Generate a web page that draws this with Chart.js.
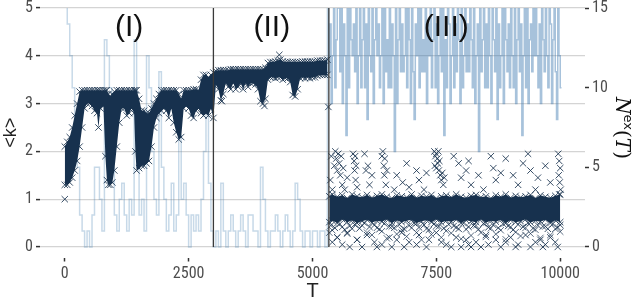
<!DOCTYPE html>
<html lang="en">
<head>
<meta charset="UTF-8" />
<title>&lt;k&gt; and Nex(T)</title>
<script src="https://cdn.jsdelivr.net/npm/chart.js"></script>
<style>
  html, body { margin: 0; padding: 0; background: #fff; }
  #wrap { width: 638px; height: 301px; }
</style>
</head>
<body>
<div id="wrap"><canvas id="chart"></canvas></div>
<script>
// ticks
const xTicks = [0, 2500, 5000, 7500, 10000];
const kTicks = [0, 1, 2, 3, 4, 5];
const nexTicks = [0, 5, 10, 15];

// phase boundaries and labels
const phaseBounds = [3000, 5330];
const phaseNames = ['(I)', '(II)', '(III)'];
const phaseNameT = [1300, 4180, 7700];

// <k> band, phases I and II (lower / upper edge of the dense cloud)
const kT = [0,50,100,150,200,250,300,350,400,450,500,550,600,650,680,720,780,820,850,880,
  920,960,1000,1050,1100,1150,1200,1250,1300,1350,1400,1425,1450,1500,1550,1600,1650,1700,1750,1800,
  1850,1900,1950,2000,2050,2100,2150,2200,2250,2300,2350,2400,2450,2500,2550,2600,2650,2700,2750,2800,
  2850,2900,2950,3000,
  3050,3100,3150,3200,3250,3300,3350,3400,3450,3500,3550,3600,3650,3700,3750,3800,3850,3900,3950,4000,
  4050,4100,4150,4200,4250,4300,4350,4400,4450,4500,4550,4600,4650,4700,4750,4800,4850,4900,4950,5000,
  5050,5100,5150,5200,5250,5300];
const kLo = [1.3,1.3,1.35,1.45,1.6,1.8,2.1,2.5,2.9,3.0,3.0,2.95,2.85,2.8,2.5,2.9,2.95,1.9,1.4,1.3,
  1.3,1.35,1.6,2.1,2.6,2.9,2.9,2.75,2.8,2.9,2.8,2.0,1.6,1.65,1.7,1.7,1.75,1.8,2.1,2.5,
  2.7,2.8,2.85,2.9,2.85,2.7,2.9,2.6,2.4,2.25,2.3,2.9,2.95,2.9,2.75,2.7,2.85,2.9,2.8,2.75,
  2.8,2.75,2.9,2.7,
  3.4,3.3,3.07,3.2,3.43,3.35,3.3,3.43,3.3,3.35,3.43,3.3,3.43,3.35,3.43,3.43,3.4,3.3,3.05,3.0,
  3.1,3.5,3.55,3.55,3.53,3.55,3.55,3.5,3.53,3.53,3.45,3.18,3.15,3.3,3.53,3.55,3.53,3.55,3.53,3.55,
  3.55,3.58,3.6,3.6,3.6,3.6];
const kHi = [2.1,2.2,2.3,2.5,2.75,3.0,3.25,3.28,3.28,3.28,3.28,3.28,3.28,3.28,3.28,3.28,3.28,3.28,3.28,3.2,
  3.15,3.2,3.25,3.28,3.28,3.28,3.28,3.28,3.28,3.28,3.28,3.28,3.28,3.1,2.85,2.85,2.8,2.8,2.9,3.0,
  3.1,3.2,3.28,3.28,3.28,3.28,3.28,3.28,3.28,3.2,3.1,3.28,3.28,3.28,3.28,3.3,3.3,3.28,3.5,3.6,
  3.6,3.55,3.6,3.65,
  3.68,3.7,3.7,3.7,3.7,3.7,3.72,3.72,3.72,3.72,3.72,3.72,3.72,3.72,3.72,3.72,3.72,3.72,3.72,3.72,
  3.75,3.85,3.87,3.87,3.88,3.9,3.92,3.88,3.87,3.87,3.87,3.87,3.87,3.87,3.87,3.88,3.88,3.88,3.88,3.88,
  3.88,3.9,3.9,3.9,3.9,3.92];

// <k> band, phase III
const band3T = [5340,5400,5500,5600,5700,5800,5900,6000,6100,6200,6300,6400,6500,6600,6700,6800,
  6900,7000,7100,7200,7300,7400,7500,7600,7700,7800,7900,8000,8100,8200,8300,8400,8500,8600,8700,8800,
  8900,9000,9100,9200,9300,9400,9500,9600,9700,9800,9900,10000];
const band3Hi = [1.06,1.1,1.05,1.08,1.02,1.1,1.06,1.04,1.09,1.03,1.07,1.1,1.05,1.02,1.08,1.06,1.04,1.1,
  1.03,1.07,1.05,1.09,1.02,1.06,1.08,1.04,1.1,1.05,1.03,1.07,1.09,1.04,1.06,1.02,1.08,1.05,1.1,1.03,
  1.07,1.04,1.06,1.09,1.02,1.08,1.05,1.03,1.07,1.1];
const band3Lo = [0.52,0.55,0.5,0.58,0.52,0.56,0.5,0.54,0.57,0.51,0.55,0.53,0.58,0.5,0.56,0.52,0.55,0.57,
  0.5,0.54,0.56,0.52,0.58,0.51,0.55,0.53,0.57,0.5,0.56,0.54,0.52,0.58,0.51,0.55,0.53,0.57,0.5,0.56,
  0.52,0.54,0.58,0.51,0.55,0.53,0.57,0.5,0.56,0.52];
const band3Fuzz = [0.3,0.35,0.2,0.42,0.28,0.38,0.15,0.45,0.3,0.25,0.4,0.33,0.18,0.43,0.27,0.36,0.22,0.4,
  0.3,0.15,0.38,0.26,0.44,0.2,0.34,0.29,0.41,0.17,0.37,0.24,0.45,0.3,0.21,0.39,0.27,0.35,0.16,0.42,
  0.31,0.23,0.4,0.28,0.36,0.19,0.43,0.25,0.38,0.32];
const band3FuzzT = [5370,5450,5550,5650,5750,5850,5950,6050,6150,6250,6350,6450,6550,6650,6750,6850,
  6950,7050,7150,7250,7350,7450,7550,7650,7750,7850,7950,8050,8150,8250,8350,8450,8550,8650,8750,8850,
  8950,9050,9150,9250,9350,9450,9550,9650,9750,9850,9950,10000];
const band3Fuzz2 = [0.45,0.4,0.48,0.36,0.44,0.47,0.39,0.5,0.42,0.46,0.37,0.49,0.43,0.4,0.47,0.38,0.45,0.5,
  0.41,0.46,0.36,0.48,0.43,0.39,0.47,0.44,0.38,0.5,0.42,0.45,0.37,0.49,0.41,0.46,0.4,0.48,0.44,0.36,
  0.47,0.42,0.5,0.39,0.45,0.43,0.38,0.48,0.41,0.46];

// isolated <k> points
const outT = [0,3170,4030,4330,5320,
  5360,5380,5400,5440,5460,5480,5500,5520,5540,5560,5580,5600,5620,5650,5700,
  5820,5840,5850,5860,5870,5880,5900,
  6050,6080,6120,6150,6200,
  6400,6420,6440,6450,6460,6480,6500,
  6650,6700,6820,6900,6950,7100,7150,7250,7300,
  7460,7480,7500,7520,7540,7560,7470,7500,7530,7550,7580,7600,7620,7640,7660,
  7850,7950,8000,8100,8150,8200,8350,8450,8600,8650,8700,8800,8900,9050,9150,9250,9350,9400,9500,9550,9700,9800,
  9960,9980,10000,9970,9990,10010,9980,
  5400,5500,5600,5700,5750,5900,6000,6100,6250,6300,6400,6550,6600,6700,6800,6850,6950,7100,7150,7300,
  7350,7500,7600,7700,7800,7900,8000,8100,8150,8200,8300,8400,8500,8550,8700,8800,8900,9000,9100,9150,
  9300,9400,9500,9600,9650,9700,9800,9900,9950];
const outK = [1.0,3.05,2.95,4.02,2.93,
  1.4,1.9,1.2,1.7,2.0,1.85,1.6,1.95,1.75,1.5,1.9,1.3,1.65,1.2,1.45,
  1.95,1.8,1.6,1.9,1.4,1.7,1.25,
  1.95,1.6,1.7,1.3,1.5,
  1.9,2.0,1.7,1.5,1.85,1.3,1.6,
  1.2,1.5,1.35,1.75,1.25,1.6,1.4,1.2,1.55,
  2.0,1.9,1.95,1.85,2.0,1.8,1.7,1.65,1.75,1.6,1.5,1.4,1.55,1.3,1.45,
  1.9,1.75,1.45,1.6,1.8,1.3,1.5,1.2,1.9,1.65,1.4,1.55,1.85,1.5,1.3,1.75,1.95,1.6,1.2,1.45,1.7,1.35,
  1.95,1.8,1.65,1.5,1.35,1.2,1.1,
  0.1,0.2,0.05,0.3,0,0.15,0,0.25,0.1,0,0.05,0.2,0,0.15,0.3,0,0.1,0.05,0.25,0,
  0.15,0.3,0.1,0.05,0,0.2,0,0.15,0.05,0,0.1,0,0.25,0.05,0.15,0,0.1,0.2,0,0.05,
  0.25,0,0.1,0.15,0,0.05,0.2,0.1,0];

// Nex(T): every 50 from T=0 to 5300, then every 25 from T=5325
const nexEarlyDt = 50;
const nexEarly = [16,16,14,12,10,8,5,2,1,0, 1,0,2,5,5,3,1,13,12,10, 5,2,1,3,4,2,1,3,2,13,
  5,2,3,1,12,10,6,3,2,11, 5,3,1,2,4,1,2,7,3,4, 2,0,2,1,2,1,3,6,9,4,
  1,0,1,0,4,1,0,1,2,1, 0,1,2,1,0,2,2,1,1,0, 5,3,1,0,1,1,2,1,0,1, 2,1,0,1,4,3,1,0,1,1, 0,1,1,0,1,1,0];
const nexLateStart = 5325;
const nexLateDt = 25;
const nexLate = [16,11,14,9,12,16,10,13,15,15, 11,17,9,14,12,7,15,10,16,13, 12,14,11,16,9,12,15,10,13,17,
  10,14,8,16,12,11,15,9,13,16, 12,14,10,12,17,9,15,11,13,10, 16,10,14,12,6,15,9,13,16,11,
  14,11,12,17,10,15,13,9,16,11, 8,14,12,15,10,16,11,13,11,17, 9,14,12,15,10,13,16,10,14,9,
  12,15,11,17,7,13,10,16,14,9, 12,15,10,14,11,16,13,9,15,10, 12,17,11,14,11,16,13,10,15,9,
  12,14,6,16,11,13,15,10,14,10, 17,12,9,15,13,11,16,8,14,10, 12,15,9,16,13,11,14,10,17,12,
  10,15,9,13,16,11,14,7,12,15, 10,16,9,13,14,11,17,12,15,12, 10,14,9,16,13,11,15,12,10,16,
  14,9,13,15,11,8,16,12,10];

const navy = '#17314e';
const tickFont = { family: '"Liberation Sans Narrow", "Roboto Condensed", "Liberation Sans", sans-serif', size: 16 };
const tickColor = '#4d4d4d';

const pts = (xs, ys) => xs.map((x, i) => ({ x: x, y: ys[i] }));
const nexPoints = nexEarly.map((v, i) => ({ x: i * nexEarlyDt, y: v }))
  .concat(nexLate.map((v, j) => ({ x: nexLateStart + j * nexLateDt, y: v })));

const cross = {
  type: 'line', showLine: true, borderColor: 'rgba(0,0,0,0)', borderWidth: 0,
  pointStyle: 'crossRot', pointRadius: 4.5, pointBorderWidth: 1,
  pointBorderColor: 'rgba(23,49,78,0.85)', pointBackgroundColor: 'rgba(0,0,0,0)', order: 1
};

const datasets = [
  Object.assign({}, cross, { data: pts(kT, kHi), fill: false }),
  Object.assign({}, cross, { data: pts(kT, kLo), fill: '-1', backgroundColor: navy }),
  Object.assign({}, cross, { data: pts(band3T, band3Hi), fill: false }),
  Object.assign({}, cross, { data: pts(band3T, band3Lo), fill: '-1', backgroundColor: navy }),
  Object.assign({}, cross, { data: pts(band3T, band3Fuzz), showLine: false, pointBorderColor: 'rgba(23,49,78,0.7)' }),
  Object.assign({}, cross, { data: pts(band3FuzzT, band3Fuzz2), showLine: false }),
  Object.assign({}, cross, { data: pts(outT, outK), showLine: false }),
  {
    type: 'line', data: nexPoints, yAxisID: 'y2', stepped: 'after',
    borderColor: 'rgba(70,130,180,0.3)', borderWidth: 1.5, pointRadius: 0, fill: false, order: 5,
    segment: { borderColor: c => c.p0.parsed.x >= nexLateStart ? 'rgba(60,120,175,0.45)' : undefined }
  }
].concat(phaseBounds.map(t => ({
  type: 'line', data: [{ x: t, y: 0 }, { x: t, y: 5 }],
  borderColor: '#3a3a3a', borderWidth: 1.3, pointRadius: 0, fill: false, order: 0
})));

const phaseLabels = {
  id: 'phaseLabels',
  afterDatasetsDraw(chart) {
    const { ctx, scales } = chart;
    ctx.save();
    ctx.font = '30px "Liberation Sans Narrow", "Liberation Sans", sans-serif';
    ctx.fillStyle = '#111';
    ctx.textAlign = 'center';
    ctx.textBaseline = 'middle';
    phaseNames.forEach((s, i) => {
      ctx.fillText(s, scales.x.getPixelForValue(phaseNameT[i]), scales.y.getPixelForValue(4.58));
    });
    ctx.restore();
  }
};

// right axis title: N^ex(T), read top to bottom
const rightTitle = {
  id: 'rightTitle',
  afterDraw(chart) {
    const ctx = chart.ctx;
    const parts = [
      { t: 'N', f: 'italic 20px "DejaVu Serif", serif', dy: 0 },
      { t: 'ex', f: '13px "DejaVu Sans", sans-serif', dy: -8 },
      { t: '(', f: '20px "DejaVu Serif", serif', dy: 0 },
      { t: 'T', f: 'italic 20px "DejaVu Serif", serif', dy: 0 },
      { t: ')', f: '20px "DejaVu Serif", serif', dy: 0 }
    ];
    ctx.save();
    let w = 0;
    parts.forEach(p => { ctx.font = p.f; p.w = ctx.measureText(p.t).width; w += p.w; });
    ctx.translate(622, 128);
    ctx.rotate(Math.PI / 2);
    ctx.fillStyle = '#111';
    ctx.textBaseline = 'alphabetic';
    let x = -w / 2;
    parts.forEach(p => { ctx.font = p.f; ctx.fillText(p.t, x, 6 + p.dy); x += p.w; });
    ctx.restore();
  }
};

const noPadV = s => { s.paddingTop = 0; s.paddingBottom = 0; };

new Chart(document.getElementById('chart'), {
  data: { datasets: datasets },
  options: {
    responsive: true,
    maintainAspectRatio: false,
    animation: false,
    layout: { padding: { top: 8 } },
    plugins: { legend: { display: false }, tooltip: { enabled: false } },
    scales: {
      x: {
        type: 'linear', min: -500, max: 10500,
        afterBuildTicks: s => { s.ticks = xTicks.map(v => ({ value: v })); },
        afterFit: s => { s.height = 43.5; s.paddingLeft = 0; s.paddingRight = 0; },
        grid: { drawOnChartArea: false, tickLength: 4, tickColor: '#333', tickWidth: 1.5 },
        border: { display: false },
        ticks: { color: tickColor, font: tickFont, padding: 3, maxRotation: 0, callback: v => String(v) },
        title: { display: true, text: 'T', color: '#222', padding: 0,
          font: { family: '"Liberation Sans Narrow", "Liberation Sans", sans-serif', size: 20, lineHeight: 1 } }
      },
      y: {
        position: 'left', min: -0.22, max: 5,
        afterBuildTicks: s => { s.ticks = kTicks.map(v => ({ value: v })); },
        afterFit: s => { s.width = 40; noPadV(s); },
        grid: { color: '#d4d4d4', lineWidth: 1.2, tickLength: 4, tickColor: '#333', tickWidth: 1.5 },
        border: { display: false },
        ticks: { color: tickColor, font: tickFont, padding: 3, callback: v => String(v) },
        title: { display: true, text: '<k>', color: '#222', padding: 0,
          font: { family: '"Liberation Sans Narrow", "Liberation Sans", sans-serif', size: 18, lineHeight: 1.2 } }
      },
      y2: {
        position: 'right', min: -0.66, max: 15,
        afterBuildTicks: s => { s.ticks = nexTicks.map(v => ({ value: v })); },
        afterFit: s => { s.width = 53; noPadV(s); },
        grid: { drawOnChartArea: false, tickLength: 4, tickColor: '#333', tickWidth: 1.5 },
        border: { display: false },
        ticks: { color: tickColor, font: tickFont, padding: 3, callback: v => String(v) }
      }
    }
  },
  plugins: [phaseLabels, rightTitle]
});
</script>
</body>
</html>
